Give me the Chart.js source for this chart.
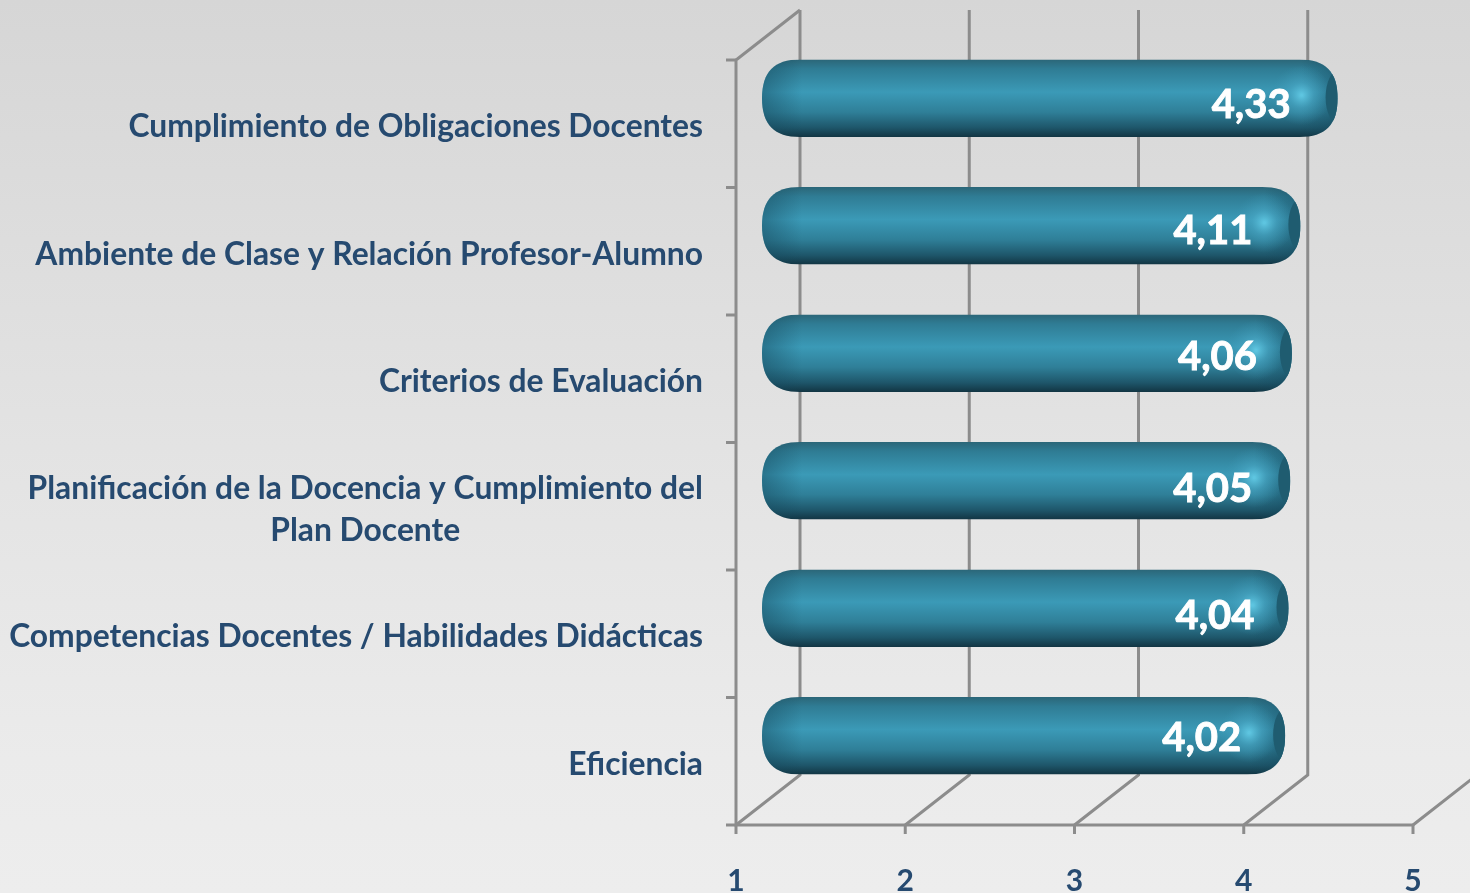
<!DOCTYPE html>
<html><head><meta charset="utf-8">
<style>html,body{margin:0;padding:0;width:1470px;height:893px;overflow:hidden;background:#e4e4e4}
#wrap{position:relative;width:1470px;height:893px}canvas{display:block;filter:blur(0.5px)}</style>
<script src="https://cdn.jsdelivr.net/npm/chart.js@4"></script></head>
<body><div id="wrap"><canvas id="c" width="1470" height="893"></canvas></div>
<script>
const categories=[["Cumplimiento de Obligaciones Docentes"],["Ambiente de Clase y Relación Profesor-Alumno"],["Criterios de Evaluación"],["Planificación de la Docencia y Cumplimiento del","Plan Docente"],["Competencias Docentes / Habilidades Didácticas"],["Eficiencia"]];
const values=[4.33,4.11,4.06,4.05,4.04,4.02];
const valueLabels=["4,33","4,11","4,06","4,05","4,04","4,02"];
const xTicks=[1,2,3,4,5];
// style only
const labelNudgeX=[1,0,13,10,14,4], labelNudgeY=[7,5,4,8,8,2];
const DX=64,DY=50,HALFX=32,HALFY=25.5,CAP=6;
const TEXT='#264a70',AXIS='#8c8c8c',FONT='Lato, Carlito, sans-serif';

function roundPath(ctx,x0,x1,y0,y1,r){
  const h=(y1-y0)/2,ym=(y0+y1)/2,k=0.68;
  ctx.beginPath();ctx.moveTo(x0+r,y0);ctx.lineTo(x1-r,y0);
  ctx.bezierCurveTo(x1-r+k*r,y0,x1,ym-k*h,x1,ym);
  ctx.bezierCurveTo(x1,ym+k*h,x1-r+k*r,y1,x1-r,y1);
  ctx.lineTo(x0+r,y1);
  ctx.bezierCurveTo(x0+r-k*r,y1,x0,ym+k*h,x0,ym);
  ctx.bezierCurveTo(x0,ym-k*h,x0+r-k*r,y0,x0+r,y0);
  ctx.closePath();
}
const deco={id:'deco',
 beforeDraw(ch){const {ctx,width,height}=ch;
  let g=ctx.createLinearGradient(0,0,0,height);g.addColorStop(0,'#d6d6d6');g.addColorStop(.5,'#e3e3e3');g.addColorStop(.85,'#ebebeb');g.addColorStop(1,'#ededed');
  ctx.fillStyle=g;ctx.fillRect(0,0,width,height);},
 beforeDatasetsDraw(ch){const {ctx,chartArea:a,scales:{x,y}}=ch;
  ctx.save();ctx.strokeStyle=AXIS;ctx.lineWidth=3;
  xTicks.forEach(v=>{const px=x.getPixelForValue(v);
    ctx.beginPath();ctx.moveTo(px,a.bottom);ctx.lineTo(px+DX,a.bottom-DY);ctx.lineTo(px+DX,a.top-DY);ctx.stroke();
    ctx.beginPath();ctx.moveTo(px,a.bottom);ctx.lineTo(px,a.bottom+9);ctx.stroke();});
  ctx.beginPath();ctx.moveTo(a.left+DX,a.top-DY);ctx.lineTo(a.left,a.top);ctx.lineTo(a.left,a.bottom);ctx.lineTo(a.right,a.bottom);ctx.stroke();
  for(let i=0;i<=categories.length;i++){const py=a.top+i*(a.bottom-a.top)/categories.length;
    ctx.beginPath();ctx.moveTo(a.left-10,py);ctx.lineTo(a.left,py);ctx.stroke();}
  ctx.fillStyle=TEXT;ctx.font='bold 31.8px '+FONT;ctx.textAlign='center';ctx.textBaseline='middle';
  categories.forEach((lines,i)=>{const py=y.getPixelForValue(i);
    const w=Math.max(...lines.map(l=>ctx.measureText(l).width));
    lines.forEach((l,k)=>ctx.fillText(l,703-w/2,py+3+(k-(lines.length-1)/2)*42));});
  ctx.restore();},
 beforeDatasetDraw(ch,args){const {ctx}=ch;const meta=args.meta;
  meta.data.forEach((el,i)=>{const p=el.getProps(['x','y','base','height'],true);
   const x0=p.base+HALFX-CAP,x1=p.x+HALFX+CAP,yc=p.y-HALFY,h=p.height,y0=yc-h/2,y1=yc+h/2;
   ctx.save();roundPath(ctx,x0,x1,y0,y1,38);ctx.clip();
   let g=ctx.createLinearGradient(0,y0,0,y1);
   g.addColorStop(0,'#2b6678');g.addColorStop(.12,'#2f7c94');g.addColorStop(.42,'#3b9ab7');g.addColorStop(.68,'#2f7f98');g.addColorStop(.88,'#1e566a');g.addColorStop(1,'#123543');
   ctx.fillStyle=g;ctx.fillRect(x0,y0,x1-x0,h);
   let l=ctx.createLinearGradient(x0,0,x0+40,0);l.addColorStop(0,'rgba(20,70,90,.45)');l.addColorStop(1,'rgba(20,70,90,0)');
   ctx.fillStyle=l;ctx.fillRect(x0,y0,40,h);
   let r2=ctx.createLinearGradient(x1-36,0,x1,0);r2.addColorStop(0,'rgba(20,70,90,0)');r2.addColorStop(1,'rgba(20,70,90,.5)');
   ctx.fillStyle=r2;ctx.fillRect(x1-36,y0,36,h);
   let cx=x1-36,cy=yc-3,rg=ctx.createRadialGradient(cx,cy,1,cx,cy,30);
   rg.addColorStop(0,'rgba(100,205,232,.85)');rg.addColorStop(.4,'rgba(75,170,200,.5)');rg.addColorStop(1,'rgba(60,150,180,0)');
   ctx.fillStyle=rg;ctx.fillRect(cx-32,cy-32,64,64);
   ctx.beginPath();ctx.ellipse(x1+1,yc-1,13,27,0,0,Math.PI*2);ctx.fillStyle='#1f5c70';ctx.fill();
   ctx.restore();
   ctx.fillStyle='#ffffff';ctx.strokeStyle='#ffffff';ctx.lineWidth=.9;ctx.font='bold 40px '+FONT;ctx.textAlign='right';ctx.textBaseline='middle';
   const tx=x1-48+labelNudgeX[i],ty=yc+labelNudgeY[i];
   ctx.fillText(valueLabels[i],tx,ty);ctx.strokeText(valueLabels[i],tx,ty);
  });
  return false;}
};
new Chart(document.getElementById('c'),{type:'bar',
 data:{labels:categories,datasets:[{data:values,base:1,backgroundColor:'#2f7f98',barPercentage:0.608,categoryPercentage:1}]},
 options:{indexAxis:'y',responsive:false,animation:false,
  layout:{padding:{left:0,right:57,top:60,bottom:0}},
  plugins:{legend:{display:false},tooltip:{enabled:false}},
  scales:{
   x:{type:'linear',min:1,max:5,afterFit:s=>{s.height=68},
      grid:{display:false},border:{display:false},
      ticks:{stepSize:1,padding:30,color:TEXT,font:{family:FONT,size:30,weight:'bold'},maxRotation:0}},
   y:{type:'category',afterFit:s=>{s.width=736},grid:{display:false},border:{display:false},ticks:{display:false}}
  }},
 plugins:[deco]});
</script></body></html>
